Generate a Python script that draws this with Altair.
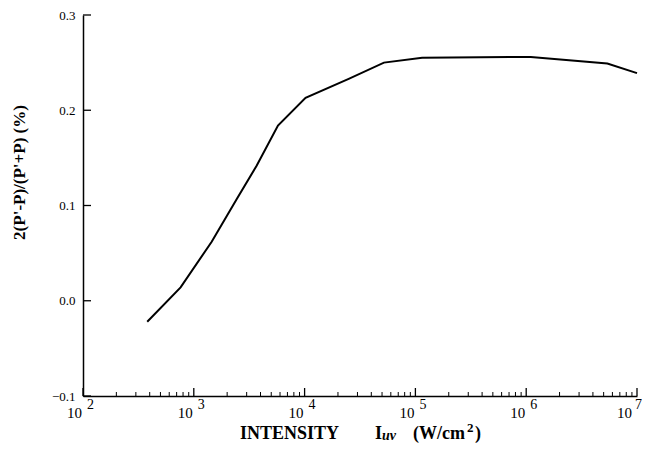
import altair as alt
import pandas as pd

# data
intensity = [380, 760, 1450, 2450, 3700, 5750, 10200, 25000, 52000, 115000, 1100000, 5400000, 10000000]
ratio = [-0.022, 0.014, 0.062, 0.107, 0.142, 0.184, 0.213, 0.233, 0.250, 0.255, 0.256, 0.249, 0.239]

decades = [1e2, 1e3, 1e4, 1e5, 1e6, 1e7]
exponents = ["2", "3", "4", "5", "6", "7"]
minor_x = [m * 10 ** k for k in range(2, 7) for m in range(2, 10)]
y_ticks = [-0.1, 0.0, 0.1, 0.2, 0.3]

W, H = 554, 381
FONT = "Liberation Serif"

df = pd.DataFrame({"x": intensity, "y": ratio})
dec_df = pd.DataFrame({"x": decades, "e": exponents})
one = pd.DataFrame({"k": [0]})
xscale = alt.Scale(type="log", domain=[100, 1e7], nice=False)
yscale = alt.Scale(domain=[-0.1, 0.3], nice=False, zero=False)

line = alt.Chart(df).mark_line(color="black", strokeWidth=2).encode(
    x=alt.X("x:Q", scale=xscale,
            axis=alt.Axis(labels=False, ticks=False, grid=False, title=None,
                          domainColor="black", domainWidth=1.5)),
    y=alt.Y("y:Q", scale=yscale,
            axis=alt.Axis(values=y_ticks, format=".1f", ticks=False, grid=False,
                          domainColor="black", domainWidth=1.5,
                          labelFont=FONT, labelFontSize=13, labelColor="black",
                          labelPadding=8, labelFlush=False,
                          title="2(P'-P)/(P'+P)  (%)",
                          titleFont=FONT, titleFontSize=17, titleFontWeight="bold",
                          titleColor="black", titleX=-64, titleY=157,
                          titleAngle=270, titleAlign="center", titleBaseline="middle")),
)

major = alt.Chart(pd.DataFrame({"x": decades})).mark_rule(color="black", strokeWidth=1.3).encode(
    x=alt.X("x:Q", scale=xscale), y=alt.value(H), y2=alt.value(H - 8))
minor = alt.Chart(pd.DataFrame({"x": minor_x})).mark_rule(color="black", strokeWidth=1).encode(
    x=alt.X("x:Q", scale=xscale), y=alt.value(H), y2=alt.value(H - 4))
yt = alt.Chart(pd.DataFrame({"y": y_ticks})).mark_rule(color="black", strokeWidth=1.3).encode(
    y=alt.Y("y:Q", scale=yscale), x=alt.value(0), x2=alt.value(8))


def dec_label(last, dx_ten, dx_exp):
    test = "datum.x >= 1e7" if last else "datum.x < 1e7"
    base = alt.Chart(dec_df).transform_filter(test)
    ten = base.mark_text(font=FONT, fontSize=15, align="right", baseline="alphabetic",
                         dx=dx_ten, color="black").encode(
        x=alt.X("x:Q", scale=xscale), y=alt.value(H + 22), text=alt.value("10"))
    expo = base.mark_text(font=FONT, fontSize=14, align="left", baseline="alphabetic",
                          dx=dx_exp, color="black").encode(
        x=alt.X("x:Q", scale=xscale), y=alt.value(H + 13), text="e:N")
    return [ten, expo]


def piece(txt, x, y, size, italic=False):
    kw = dict(font=FONT, fontSize=size, fontWeight="bold", align="left",
              baseline="alphabetic", color="black")
    if italic:
        kw["fontStyle"] = "italic"
    return alt.Chart(one).mark_text(**kw).encode(
        x=alt.value(x), y=alt.value(y), text=alt.value(txt))


TB = H + 43
title_layers = [
    piece("INTENSITY", 157, TB, 18),
    piece("I", 292, TB, 18),
    piece("uv", 299, TB + 1, 14, italic=True),
    piece("(W/cm", 330, TB, 18),
    piece("2", 384, TB - 7, 13),
    piece(")", 392, TB, 18),
]

chart = alt.layer(line, major, minor, yt,
                  *dec_label(False, -1, 4), *dec_label(True, -5, -2),
                  *title_layers).properties(
    width=W, height=H, autosize="none",
    padding={"left": 75, "top": 7, "right": 5, "bottom": 47},
    background="white",
).configure_view(stroke=None)

chart.save("out.html", embed_options={"renderer": "svg", "actions": False})
